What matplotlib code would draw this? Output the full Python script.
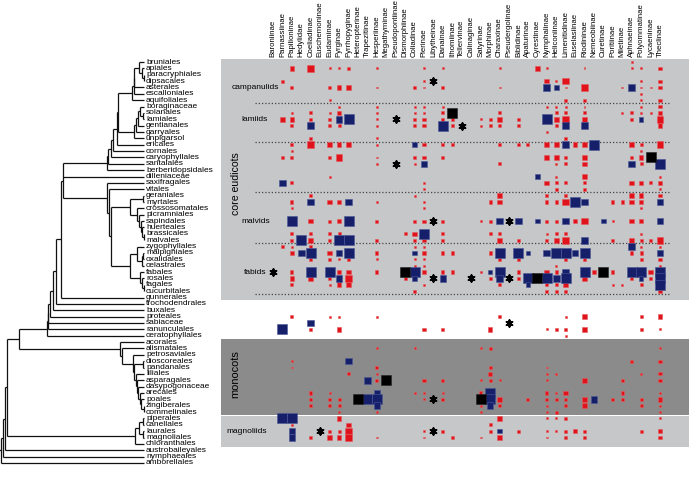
import matplotlib
matplotlib.use('Agg')
import matplotlib.pyplot as plt
from matplotlib.patches import Rectangle

plt.rcParams['font.family'] = ['Liberation Sans', 'DejaVu Sans']

# ---------------- data ----------------
orders = ['bruniales', 'apiales', 'paracryphiales', 'dipsacales', 'asterales', 'escalloniales',
          'aquifoliales', 'boraginaceae', 'solanales', 'lamiales', 'gentianales', 'garryales',
          'unplgarsol', 'ericales', 'cornales', 'caryophyllales', 'santalales', 'berberidopsidales',
          'dilleniaceae', 'saxifragales', 'vitales', 'geraniales', 'myrtales', 'crossosomatales',
          'picramniales', 'sapindales', 'huerteales', 'brassicales', 'malvales', 'zygophyllales',
          'malpighiales', 'oxalidales', 'celastrales', 'fabales', 'rosales', 'fagales',
          'cucurbitales', 'gunnerales', 'trochodendrales', 'buxales', 'proteales', 'sabiaceae',
          'ranunculales', 'ceratophyllales', 'acorales', 'alismatales', 'petrosaviales',
          'dioscoreales', 'pandanales', 'liliales', 'asparagales', 'dasypogonaceae', 'arecales',
          'poales', 'zingiberales', 'commelinales', 'piperales', 'canellales', 'laurales',
          'magnoliales', 'chloranthales', 'austrobaileyales', 'nymphaeales', 'amborellales']

subfamilies = ['Baroniinae', 'Parnassiinae', 'Papilioninae', 'Hedylidae', 'Coeliadinae',
               'Euschemoninae', 'Eudaminae', 'Pyrginae', 'Pyrrhopyginae', 'Heteropterinae',
               'Trapezitinae', 'Hesperiinae', 'Megathyminae', 'Pseudopontiinae', 'Dismorphiinae',
               'Coliadinae', 'Pierinae', 'Libytheinae', 'Danainae', 'Ithomiinae', 'Tellervinae',
               'Calinaginae', 'Satyrinae', 'Morphinae', 'Charaxinae', 'Pseudergolinae',
               'Biblidinae', 'Apaturinae', 'Cyrestinae', 'Nymphalinae', 'Heliconiinae',
               'Limenitidinae', 'Euselasiinae', 'Riodininae', 'Nemeobiinae', 'Curetinae',
               'Poritiinae', 'Miletinae', 'Aphnaeinae', 'Polyommatinae', 'Lycaeninae', 'Theclinae']

# phylogeny: (node height, children...) ; tips are names
def N(h, *children):
    return (h, list(children))

campanulids = N(132.3, N(133.5, N(134.3, N(139.3, 'bruniales', N(142, 'apiales', N(143.5, 'paracryphiales', 'dipsacales'))), 'asterales'), 'escalloniales'), 'aquifoliales')
lamiids = N(134.3, N(135.5, N(138, N(139.5, 'boraginaceae', N(143.3, 'solanales', 'lamiales')), 'gentianales'), 'garryales'), 'unplgarsol')
superasterids = N(106.7, N(108.3, N(111, N(113.3, N(116.7, N(118.3, campanulids, lamiids), 'ericales'), 'cornales'), 'caryophyllales'), 'santalales'), 'berberidopsidales')
malvids = N(130, N(142.7, 'geraniales', 'myrtales'), N(137, 'crossosomatales', N(139, 'picramniales', N(140.5, 'sapindales', N(142, 'huerteales', N(143.5, 'brassicales', 'malvales'))))))
fabids = N(130, N(136.7, 'zygophyllales', N(141.5, N(142.7, 'malpighiales', 'oxalidales'), 'celastrales')), N(140, 'fabales', N(142, 'rosales', N(143.5, 'fagales', 'cucurbitales'))))
superrosids = N(106.7, 'saxifragales', N(109.3, 'vitales', N(111, malvids, fabids)))
commelinids = N(138, 'dasypogonaceae', N(139.5, 'arecales', N(141, 'poales', N(143.5, 'zingiberales', 'commelinales'))))
monocots = N(120, 'acorales', N(121.7, 'alismatales', N(133.3, 'petrosaviales', N(134, N(143, 'dioscoreales', 'pandanales'), N(135.5, 'liliales', N(136.5, 'asparagales', commelinids))))))
magnoliids = N(135, N(138.5, N(143, 'piperales', 'canellales'), N(143, 'laurales', 'magnoliales')), 'chloranthales')
pentapetalae = N(63.3, superasterids, 'dilleniaceae', superrosids)
eudicots = N(46.7, N(47.5, N(48.3, N(50, N(53.3, N(56, N(61, pentapetalae, 'gunnerales'), 'trochodendrales'), 'buxales'), 'proteales'), 'sabiaceae'), 'ranunculales'), 'ceratophyllales')
tree = N(0.5, N(2.7, N(5.0, N(7.3, N(19, eudicots, monocots), magnoliids), 'austrobaileyales'), 'nymphaeales'), 'amborellales')
tip_height = 144

# matrix cells: (row, column, size class)
red_cells = [
    (0,38,1),
    (1,2,3),(1,4,4),(1,6,1),(1,7,1),(1,8,2),(1,11,1),(1,16,1),(1,18,1),(1,24,1),(1,28,3),(1,29,1),(1,33,1),(1,38,1),(1,39,1),(1,41,2),
    (3,1,2),(3,16,1),(3,29,3),(3,30,1),(3,31,4),(3,39,1),(3,41,2),
    (4,2,2),(4,6,2),(4,7,3),(4,8,3),(4,11,1),(4,15,2),(4,16,1),(4,18,2),(4,24,1),(4,31,1),(4,33,4),(4,37,1),(4,39,1),(4,40,1),(4,41,2),
    (5,39,1),
    (6,6,1),(6,31,2),(6,33,2),(6,39,1),(6,41,2),
    (7,7,1),(7,11,1),(7,15,1),(7,16,1),(7,18,1),(7,29,1),(7,30,1),(7,31,1),(7,33,1),(7,39,1),(7,41,2),
    (8,2,1),(8,4,2),(8,6,1),(8,7,3),(8,11,1),(8,15,1),(8,16,1),(8,18,2),(8,24,2),(8,30,2),(8,31,2),(8,33,2),(8,37,1),(8,38,2),(8,39,1),(8,40,1),(8,41,3),
    (9,1,3),(9,2,3),(9,4,2),(9,6,2),(9,11,1),(9,15,2),(9,16,2),(9,18,2),(9,19,2),(9,22,1),(9,23,2),(9,24,3),(9,26,2),(9,30,3),(9,31,4),(9,33,3),(9,38,2),(9,41,4),
    (10,2,2),(10,6,2),(10,7,2),(10,11,1),(10,15,2),(10,16,2),(10,19,2),(10,22,1),(10,23,2),(10,24,2),(10,26,2),(10,30,2),(10,41,3),
    (11,29,1),
    (12,4,2),(12,11,1),(12,31,2),
    (13,2,2),(13,4,4),(13,6,3),(13,7,3),(13,8,3),(13,11,1),(13,16,2),(13,18,2),(13,19,2),(13,24,2),(13,26,2),(13,27,2),(13,29,3),(13,30,3),(13,32,3),(13,33,3),(13,38,3),(13,39,2),(13,41,4),
    (14,2,1),(14,39,1),
    (15,1,2),(15,2,2),(15,6,2),(15,7,4),(15,11,1),(15,15,2),(15,16,2),(15,18,2),(15,29,3),(15,30,3),(15,31,2),(15,33,3),(15,38,2),(15,39,3),
    (16,11,1),(16,15,1),(16,24,2),(16,30,1),(16,31,2),(16,33,3),(16,39,2),
    (18,6,1),(18,30,1),(18,33,3),(18,41,1),
    (19,2,2),(19,16,1),(19,29,3),(19,30,2),(19,31,2),(19,33,2),(19,38,3),(19,39,3),(19,40,2),(19,41,3),
    (20,16,1),(20,30,2),(20,33,2),(20,41,1),
    (21,4,2),(21,15,1),(21,24,3),(21,29,2),(21,31,2),(21,38,3),(21,39,3),(21,41,2),
    (22,2,2),(22,6,3),(22,7,3),(22,11,1),(22,16,1),(22,23,2),(22,24,3),(22,29,2),(22,30,2),(22,31,4),(22,36,2),(22,37,2),(22,38,3),(22,39,3),
    (23,2,1),(23,16,1),(23,39,1),
    (25,4,3),(25,6,2),(25,7,3),(25,11,2),(25,15,2),(25,16,2),(25,18,2),(25,22,1),(25,23,2),(25,29,2),(25,30,2),(25,32,3),(25,33,4),(25,36,1),(25,38,3),(25,39,3),
    (27,2,2),(27,4,2),(27,6,2),(27,7,2),(27,14,2),(27,15,3),(27,18,2),(27,23,2),(27,24,2),(27,29,1),(27,30,2),(27,31,2),(27,39,1),
    (28,2,2),(28,4,3),(28,6,2),(28,11,2),(28,15,2),(28,16,2),(28,18,2),(28,24,3),(28,26,2),(28,29,2),(28,30,3),(28,31,4),(28,36,2),(28,38,3),(28,39,2),(28,40,2),(28,41,4),
    (29,1,2),(29,2,1),(29,4,2),(29,15,1),(29,16,1),(29,39,1),(29,41,1),
    (30,2,3),(30,6,3),(30,11,2),(30,16,3),(30,18,2),(30,19,2),(30,23,2),(30,38,2),(30,39,2),
    (31,4,2),(31,6,2),(31,7,1),(31,8,2),(31,11,1),(31,15,1),(31,16,1),(31,24,2),(31,26,2),(31,31,2),(31,33,2),(31,39,2),(31,41,2),
    (32,15,1),(32,16,1),(32,30,1),(32,41,1),
    (33,2,2),(33,7,3),(33,8,3),(33,11,2),(33,16,2),(33,18,2),(33,19,2),(33,22,1),(33,26,2),(33,29,3),(33,30,2),(33,34,3),(33,36,2),(33,40,3),
    (34,2,3),(34,4,3),(34,6,2),(34,8,4),(34,14,2),(34,23,2),(34,26,2),(34,33,3),(34,38,2),(34,40,2),
    (35,2,2),(35,6,1),(35,7,3),(35,8,3),(35,16,1),(35,24,2),(35,29,2),(35,30,2),(35,31,3),(35,36,1),(35,37,1),(35,39,2),
    (36,15,2),(36,29,2),(36,30,2),(36,31,2),(36,41,2),
    (40,2,2),(40,6,1),(40,7,1),(40,11,1),(40,24,2),(40,31,1),(40,33,3),(40,39,2),(40,41,3),
    (42,4,2),(42,7,3),(42,16,2),(42,18,2),(42,23,3),(42,29,1),(42,30,2),(42,31,2),(42,33,3),(42,39,2),(42,41,1),
    (43,31,1),
    (45,11,1),(45,15,1),(45,22,1),(45,23,2),(45,41,1),
    (47,2,1),(47,38,2),(47,41,2),
    (48,2,1),(48,11,2),(48,23,2),(48,29,1),
    (49,8,2),(49,11,1),(49,23,3),(49,29,1),(49,30,1),(49,39,1),(49,41,2),
    (50,11,2),(50,16,2),(50,18,2),(50,22,1),(50,23,2),(50,24,1),(50,29,1),(50,33,3),(50,37,2),(50,41,2),
    (52,4,2),(52,6,1),(52,15,1),(52,16,1),(52,18,1),(52,22,2),(52,29,2),(52,30,1),(52,31,3),(52,37,2),(52,41,1),
    (53,4,2),(53,6,2),(53,7,2),(53,16,1),(53,18,2),(53,24,3),(53,27,2),(53,29,2),(53,30,2),(53,31,2),(53,33,3),(53,36,2),(53,37,2),(53,39,2),(53,41,3),
    (54,4,2),(54,6,2),(54,7,2),(54,22,1),(54,24,2),(54,29,1),(54,31,2),(54,33,3),(54,39,2),(54,41,1),
    (55,7,1),(55,11,1),(55,22,1),(55,29,1),(55,30,2),(55,41,1),
    (56,7,3),(56,24,3),(56,29,1),(56,30,1),(56,31,2),(56,41,1),
    (57,2,1),(57,8,3),(57,23,2),
    (58,6,2),(58,7,2),(58,8,4),(58,16,1),(58,18,2),(58,23,2),(58,26,2),(58,29,1),(58,30,1),(58,31,2),(58,32,3),(58,33,2),(58,39,2),(58,41,3),
    (59,4,2),(59,6,3),(59,7,3),(59,8,4),(59,11,1),(59,16,1),(59,19,2),(59,22,1),(59,24,3),(59,29,1),(59,31,2),(59,33,2),(59,41,2),
]
blue_cells = [
    (4,29,4),(4,30,3),(4,38,4),
    (9,7,4),(9,8,5),(9,29,5),(9,39,3),
    (10,4,4),(10,18,5),(10,31,4),(10,33,4),
    (13,15,3),(13,31,4),(13,34,5),
    (16,16,4),(16,38,4),(16,41,5),
    (18,28,3),(19,1,4),
    (22,4,4),(22,8,4),(22,32,5),(22,33,4),(22,41,4),
    (25,2,5),(25,8,5),(25,24,4),(25,26,4),(25,28,3),(25,31,4),(25,35,3),(25,41,4),
    (27,16,5),
    (28,3,5),(28,7,5),(28,8,5),(28,33,4),
    (29,38,4),
    (30,3,4),(30,4,5),(30,7,4),(30,8,5),(30,15,3),(30,24,5),(30,26,5),(30,27,3),(30,29,4),(30,30,5),(30,31,5),(30,32,4),(30,33,5),(30,41,4),
    (33,4,5),(33,6,5),(33,15,5),(33,23,3),(33,24,5),(33,31,4),(33,33,5),(33,38,5),(33,39,5),(33,41,5),
    (34,7,4),(34,15,3),(34,18,4),(34,24,4),(34,27,5),(34,29,5),(34,30,4),(34,31,5),(34,39,3),(34,41,5),
    (35,27,3),(35,41,5),
    (41,4,4),(42,1,5),
    (47,8,4),(50,10,4),
    (52,11,4),(52,23,5),(53,10,5),(53,11,5),(53,23,5),(53,34,4),(54,11,4),(54,23,4),
    (56,1,5),(56,2,5),
    (58,2,4),(58,24,3),(59,2,4),
]
black_cells = [(8,19,5),(15,40,5),(33,14,5),(33,35,5),(34,28,5),(50,12,5),(53,9,5),(53,22,5)]
asterisks = [(3,17),(9,13),(10,20),(16,13),(25,17),(25,25),(33,0),(34,17),(34,21),(34,25),
             (41,25),(53,17),(58,5),(58,17)]

size_px = {1: 1.9, 2: 3.1, 3: 4.6, 4: 6.6, 5: 10.0}

groups = [('campanulids', 3.95, -4.35), ('lamiids', 9.0, -3.3), ('malvids', 25.1, -3.4),
          ('fabids', 33.0, -3.1), ('magnoliids', 58.0, -4.9)]
dotted_rows = [6.5, 12.5, 20.5, 28.5, 36.5]

# ---------------- figure ----------------
W, H, DPI = 689, 479, 100
fig = plt.figure(figsize=(W / DPI, H / DPI), dpi=DPI)

row0, drow = 62.0, 6.365     # pixel geometry of rows
col0, dcol = 273.0, 9.44     # pixel geometry of columns
ylim = ((H - row0) / drow, -row0 / drow)

# dendrogram axes
axd = fig.add_axes([0, 0, 221 / W, 1])
axd.set_xlim(0, 221)
axd.set_ylim(*ylim)
axd.axis('off')
row_of = {name: i for i, name in enumerate(orders)}
lc, lw = '#111111', 0.9

def draw(node):
    if isinstance(node, str):
        return row_of[node], tip_height
    h, children = node
    ys = []
    for c in children:
        y, x = draw(c)
        axd.plot([h, x], [y, y], color=lc, lw=lw, solid_capstyle='butt')
        ys.append(y)
    axd.plot([h, h], [min(ys), max(ys)], color=lc, lw=lw, solid_capstyle='butt')
    return (min(ys) + max(ys)) / 2, h

ry, rh = draw(tree)
axd.plot([0, rh], [ry, ry], color=lc, lw=lw)
for i, name in enumerate(orders):
    axd.text(146, i, name, fontsize=6.0, va='center', ha='left', color='black')

# matrix axes
axm = fig.add_axes([221 / W, 0, 1 - 221 / W, 1])
xl = ((221 - col0) / dcol, (W - col0) / dcol)
axm.set_xlim(*xl)
axm.set_ylim(*ylim)
axm.axis('off')

light, dark = '#c5c7c9', '#8b8b8b'
axm.add_patch(Rectangle((xl[0], -0.47), xl[1] - xl[0], 37.8, color=light, lw=0, zorder=0))
axm.add_patch(Rectangle((xl[0], 43.5), xl[1] - xl[0], 11.93, color=dark, lw=0, zorder=0))
axm.add_patch(Rectangle((xl[0], 55.55), xl[1] - xl[0], 4.95, color=light, lw=0, zorder=0))

for r in dotted_rows:
    axm.plot([-1.9, 42.05], [r, r], color='#444444', lw=0.9, ls=(0, (1, 1.6)), zorder=1)

def cells(data, face, edge):
    xs = [c for _, c, _ in data]
    ys = [r for r, _, _ in data]
    ss = [(size_px[s] * 72 / DPI) ** 2 for _, _, s in data]
    axm.scatter(xs, ys, s=ss, marker='s', c=face, edgecolors=edge, linewidths=0.4, zorder=3)

cells(red_cells, '#e0121c', '#e65a5a')
cells(blue_cells, '#16206a', '#4a5797')
cells(black_cells, '#000000', '#222222')
axm.scatter([c for _, c in asterisks], [r for r, _ in asterisks], s=(6.5 * 72 / DPI) ** 2,
            marker=(6, 2, 0), color='black', linewidths=1.4, zorder=4)

for j, name in enumerate(subfamilies):
    axm.text(j, -0.8, name, rotation=90, fontsize=5.6, ha='center', va='bottom')

for name, r, c in groups:
    axm.text(c, r, name, fontsize=6.0, ha='left', va='center')
axm.text(-3.97, 19.1, 'core eudicots', rotation=90, fontsize=7.6, ha='center', va='center')
axm.text(-3.97, 49.0, 'monocots', rotation=90, fontsize=7.9, ha='center', va='center')

fig.savefig('out.png', dpi=DPI)
